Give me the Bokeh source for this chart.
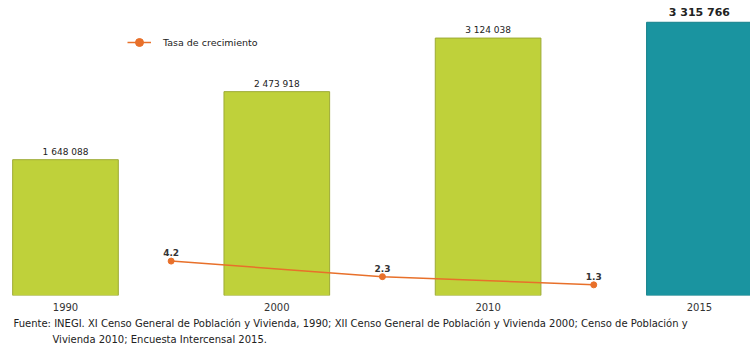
from bokeh.plotting import figure
from bokeh.models import (Range1d, ColumnDataSource, Legend, LegendItem, Title, FixedTicker)
from bokeh.core.properties import value
from bokeh.embed import file_html
from bokeh.resources import INLINE

years = ["1990", "2000", "2010", "2015"]
population = [1648088, 2473918, 3124038, 3315766]
pop_labels = ["1 648 088", "2 473 918", "3 124 038", "3 315 766"]
bar_colors = ["#BFD13A", "#BFD13A", "#BFD13A", "#1A94A0"]
edge_colors = ["#9DAA34", "#9DAA34", "#9DAA34", "#16808A"]
rate = [4.2, 2.3, 1.3]
rate_labels = ["4.2", "2.3", "1.3"]
source_line1 = "Fuente: INEGI. XI Censo General de Población y Vivienda, 1990; XII Censo General de Población y Vivienda 2000; Censo de Población y"
source_line2 = "Vivienda 2010; Encuesta Intercensal 2015."

FONT = "DejaVu Sans"

xs = list(range(len(years)))
rate_x = [i + 0.5 for i in range(len(rate))]

p = figure(width=750, height=344, output_backend="svg", toolbar_location=None,
           x_range=Range1d(-0.3076, 3.2418), y_range=Range1d(0, 3580000),
           min_border_left=0, min_border_right=0, min_border_top=0, min_border_bottom=49)
p.extra_y_ranges = {"rate": Range1d(0, 36.0)}
p.outline_line_color = None
p.xgrid.visible = False
p.ygrid.visible = False
p.yaxis.visible = False
p.background_fill_color = "white"
p.border_fill_color = "white"

bsrc = ColumnDataSource(dict(x=xs, top=population, color=bar_colors, edge=edge_colors,
                             label=pop_labels,
                             fs=["9px", "9px", "9px", "11px"],
                             fw=["normal", "normal", "normal", "bold"]))
p.vbar(x="x", top="top", width=0.5, fill_color="color", line_color="edge", line_width=1,
       source=bsrc)
p.text(x="x", y="top", text="label", source=bsrc, text_align="center", text_baseline="bottom",
       y_offset=-3, text_font=value(FONT), text_font_size="fs", text_font_style="fw",
       text_color="#222222")

rsrc = ColumnDataSource(dict(x=rate_x, y=rate, label=rate_labels))
ln = p.line(x="x", y="y", source=rsrc, y_range_name="rate", line_color="#E8702A", line_width=1.5)
sc = p.scatter(x="x", y="y", source=rsrc, y_range_name="rate", size=6, fill_color="#E8702A",
               line_color="#E8702A")
p.text(x="x", y="y", text="label", source=rsrc, y_range_name="rate", text_align="center",
       text_baseline="bottom", y_offset=-5, text_font=value(FONT), text_font_size="9px",
       text_font_style="bold", text_color="#333333")

legend = Legend(items=[LegendItem(label="Tasa de crecimiento", renderers=[ln, sc])],
                location=(127, 243), border_line_color=None, background_fill_alpha=0,
                label_text_font=FONT, label_text_font_size="9.5px", label_text_color="#222222",
                glyph_width=24, glyph_height=20, label_standoff=12, padding=0, margin=0)
p.add_layout(legend)

p.xaxis.ticker = FixedTicker(ticks=xs)
p.xaxis.major_label_overrides = {i: y for i, y in zip(xs, years)}
p.xaxis.major_tick_line_color = None
p.xaxis.minor_tick_line_color = None
p.xaxis.axis_line_color = None
p.xaxis.major_label_standoff = 1
p.xaxis.major_label_text_font = FONT
p.xaxis.major_label_text_font_size = "10px"
p.xaxis.major_label_text_color = "#333333"

t1 = Title(text=source_line1, align="left", offset=13, text_font=FONT, text_font_size="10px",
           text_font_style="normal", text_color="#222222", standoff=5)
t2 = Title(text=source_line2, align="left", offset=52, text_font=FONT, text_font_size="10px",
           text_font_style="normal", text_color="#222222", standoff=0)
p.add_layout(t1, "below")
p.add_layout(t2, "below")

open("out.html", "w").write(file_html(p, INLINE))
